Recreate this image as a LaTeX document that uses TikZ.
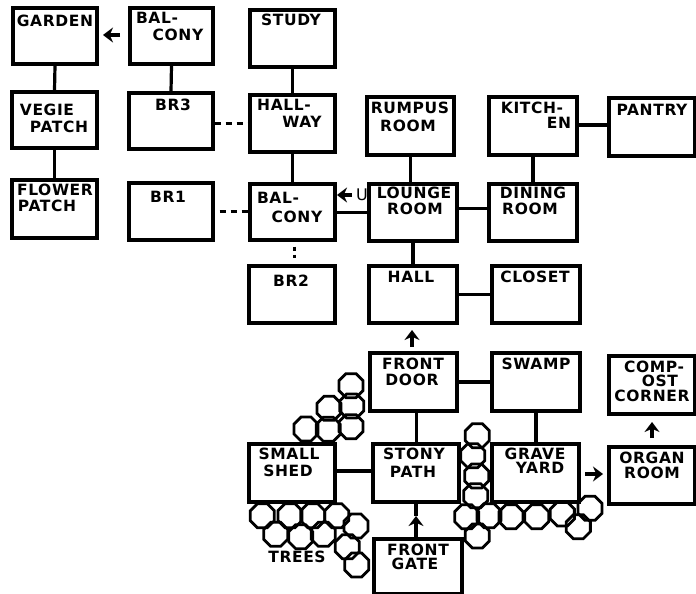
\documentclass[tikz,border=0pt]{standalone}
\usepackage{fontspec}
\setmainfont[LetterSpace=4]{DejaVu Sans}
\usetikzlibrary{shapes.geometric,arrows.meta,calc}
\tikzset{
  x=1pt,y=-1pt,
  roombox/.style={draw=black,line width=3.3pt,fill=white,rectangle,inner sep=0pt},
  roomtext/.style={font=\fontsize{15.5}{16}\selectfont\bfseries,inner sep=0pt,text=black},
  link/.style={draw=black,line width=3.2pt},
  arrowlink/.style={draw=black,line width=3.2pt,-{Stealth[length=10pt,width=15pt]}},
  dashlink/.style={draw=black,line width=3pt,dash pattern=on 6pt off 5pt},
  tree/.style={draw=black,line width=2.8pt,regular polygon,regular polygon sides=8,minimum size=26pt,inner sep=0pt}
}
\newcommand{\room}[5]{\node[roombox,minimum width=#4pt-#2pt,minimum height=#5pt-#3pt] (#1) at ({(#2+#4)/2},{(#3+#5)/2}) {};}
\newcommand{\rtext}[4]{\node[roomtext] (#1) at (#2,#3) {#4};}
\begin{document}
\begin{tikzpicture}
\useasboundingbox (0,0) rectangle (696,594);
% rooms
\room{garden}{13}{8}{97}{64}
\room{balconyA}{130}{8}{213}{64}
\room{study}{250}{10}{335}{67}
\room{vegie}{12}{92}{97}{148}
\room{brthree}{129}{93}{213}{149}
\room{hallway}{250}{95}{335}{152}
\room{flower}{12}{180}{97}{238}
\room{brone}{129}{183}{213}{240}
\room{balconyB}{250}{184}{335}{240}
\room{brtwo}{249}{266}{335}{323}
\room{rumpus}{367}{97}{454}{155}
\room{kitchen}{489}{97}{577}{155}
\room{pantry}{609}{98}{695}{156}
\room{lounge}{369}{184}{457}{241}
\room{dining}{489}{184}{577}{241}
\room{hall}{369}{266}{457}{323}
\room{closet}{492}{266}{580}{323}
\room{frontdoor}{370}{353}{457}{411}
\room{swamp}{492}{353}{580}{411}
\room{compost}{609}{356}{695}{414}
\room{shed}{249}{444}{335}{502}
\room{stony}{373}{444}{459}{502}
\room{grave}{492}{444}{579}{502}
\room{organ}{609}{447}{695}{504}
\room{gate}{374}{539}{462}{594}
% room labels
\rtext{t1}{55}{21}{GARDEN}
\rtext{t2}{157}{18}{BAL-}
\rtext{t3}{178}{35}{CONY}
\rtext{t4}{291}{20}{STUDY}
\rtext{t5}{47}{110}{VEGIE}
\rtext{t6}{59}{127}{PATCH}
\rtext{t7}{173}{105}{BR3}
\rtext{t8}{284}{105}{HALL-}
\rtext{t9}{302}{122}{WAY}
\rtext{t10}{55}{190}{FLOWER}
\rtext{t11}{47}{206}{PATCH}
\rtext{t12}{168}{197}{BR1}
\rtext{t13}{278}{198}{BAL-}
\rtext{t14}{297}{217}{CONY}
\rtext{t15}{291}{281}{BR2}
\rtext{t16}{410}{108}{RUMPUS}
\rtext{t17}{408}{126}{ROOM}
\rtext{t18}{532}{108}{KITCH-}
\rtext{t19}{559}{123}{EN}
\rtext{t20}{652}{110}{PANTRY}
\rtext{t21}{414}{193}{LOUNGE}
\rtext{t22}{415}{209}{ROOM}
\rtext{t23}{533}{193}{DINING}
\rtext{t24}{530}{209}{ROOM}
\rtext{t25}{411}{277}{HALL}
\rtext{t26}{535}{277}{CLOSET}
\rtext{t27}{413}{364}{FRONT}
\rtext{t28}{412}{380}{DOOR}
\rtext{t29}{536}{364}{SWAMP}
\rtext{t30}{654}{367}{COMP-}
\rtext{t31}{660}{381}{OST}
\rtext{t32}{652}{396}{CORNER}
\rtext{t33}{289}{454}{SMALL}
\rtext{t34}{288}{471}{SHED}
\rtext{t35}{414}{454}{STONY}
\rtext{t36}{413}{472}{PATH}
\rtext{t37}{535}{454}{GRAVE}
\rtext{t38}{540}{468}{YARD}
\rtext{t39}{652}{458}{ORGAN}
\rtext{t40}{652}{473}{ROOM}
\rtext{t41}{418}{550}{FRONT}
\rtext{t42}{415}{564}{GATE}
\rtext{t43}{297}{557}{TREES}
\node[font=\fontsize{16}{17}\selectfont,inner sep=0pt] (up) at (362,195) {U};
% solid links
\draw[link] (garden.south) -- (vegie.north);
\draw[link] (vegie.south) -- (flower.north);
\draw[link] (balconyA.south) -- (brthree.north);
\draw[link] (study.south) -- (hallway.north);
\draw[link] (hallway.south) -- (balconyB.north);
\draw[link] (rumpus.south) -- (rumpus.south |- lounge.north);
\draw[link] (lounge.south) -- (hall.north);
\draw[link] (kitchen.south) -- (dining.north);
\draw[link] (kitchen.east) ++(0,-1) -- ++(32,0);
\draw[link] ([yshift=4pt]lounge.east) -- ([yshift=4pt]dining.west);
\draw[link] (lounge.west) -- (lounge.west -| balconyB.east);
\draw[link] (hall.east) -- (closet.west);
\draw[link] (frontdoor.east) -- (swamp.west);
\draw[link] ([xshift=3pt]frontdoor.south) -- ([xshift=3pt]frontdoor.south |- stony.north);
\draw[link] (swamp.south) -- (swamp.south |- grave.north);
\draw[link] ([yshift=2pt]shed.east) -- ([yshift=2pt]shed.east -| stony.west);
% arrows
\coordinate (g1) at (120,35); \coordinate (g2) at (103,35);
\coordinate (l1) at (352,195); \coordinate (l2) at (337,195);
\coordinate (h1) at (412,347); \coordinate (h2) at (412,330);
\coordinate (c1) at (652,438); \coordinate (c2) at (652,422);
\coordinate (o1) at (585,474); \coordinate (o2) at (603,474);
\coordinate (f1) at (416,516);
\draw[arrowlink] (g1) -- (g2);
\draw[arrowlink] (l1) -- (l2);
\draw[arrowlink] (h1) -- (h2);
\draw[arrowlink] (c1) -- (c2);
\draw[arrowlink] (o1) -- (o2);
\draw[link] (f1) -- (f1 |- stony.south);
\draw[arrowlink] (f1 |- gate.north) -- (f1);
% dashed links
\draw[dashlink] ([yshift=-2pt]brthree.east) -- ([yshift=-2pt]brthree.east -| hallway.west);
\draw[dashlink] ([xshift=5pt]brone.east) -- (brone.east -| balconyB.west);
\draw[draw=black,line width=3pt,dash pattern=on 4pt off 4pt] ([xshift=2pt,yshift=-5pt]balconyB.south) -- ([xshift=2pt,yshift=6pt]balconyB.south |- brtwo.north);
% trees
\foreach \n/\a/\b in {1/363/137,2/365/198,3/297/205,4/228/267,5/295/268,6/363/260,
 7/97/527,8/180/527,9/248/527,10/320/527,11/378/558,12/137/583,13/212/590,14/280/583,15/352/620,16/380/675,
 17/742/287,18/728/347,19/740/408,20/737/467,21/710/530,22/777/527,23/843/530,24/920/530,25/997/522,26/1080/505,27/1045/560,28/742/588}
 {\node[tree] (tree\n) at ({\a/3+230},{\b/3+340}) {};}
\end{tikzpicture}
\end{document}
